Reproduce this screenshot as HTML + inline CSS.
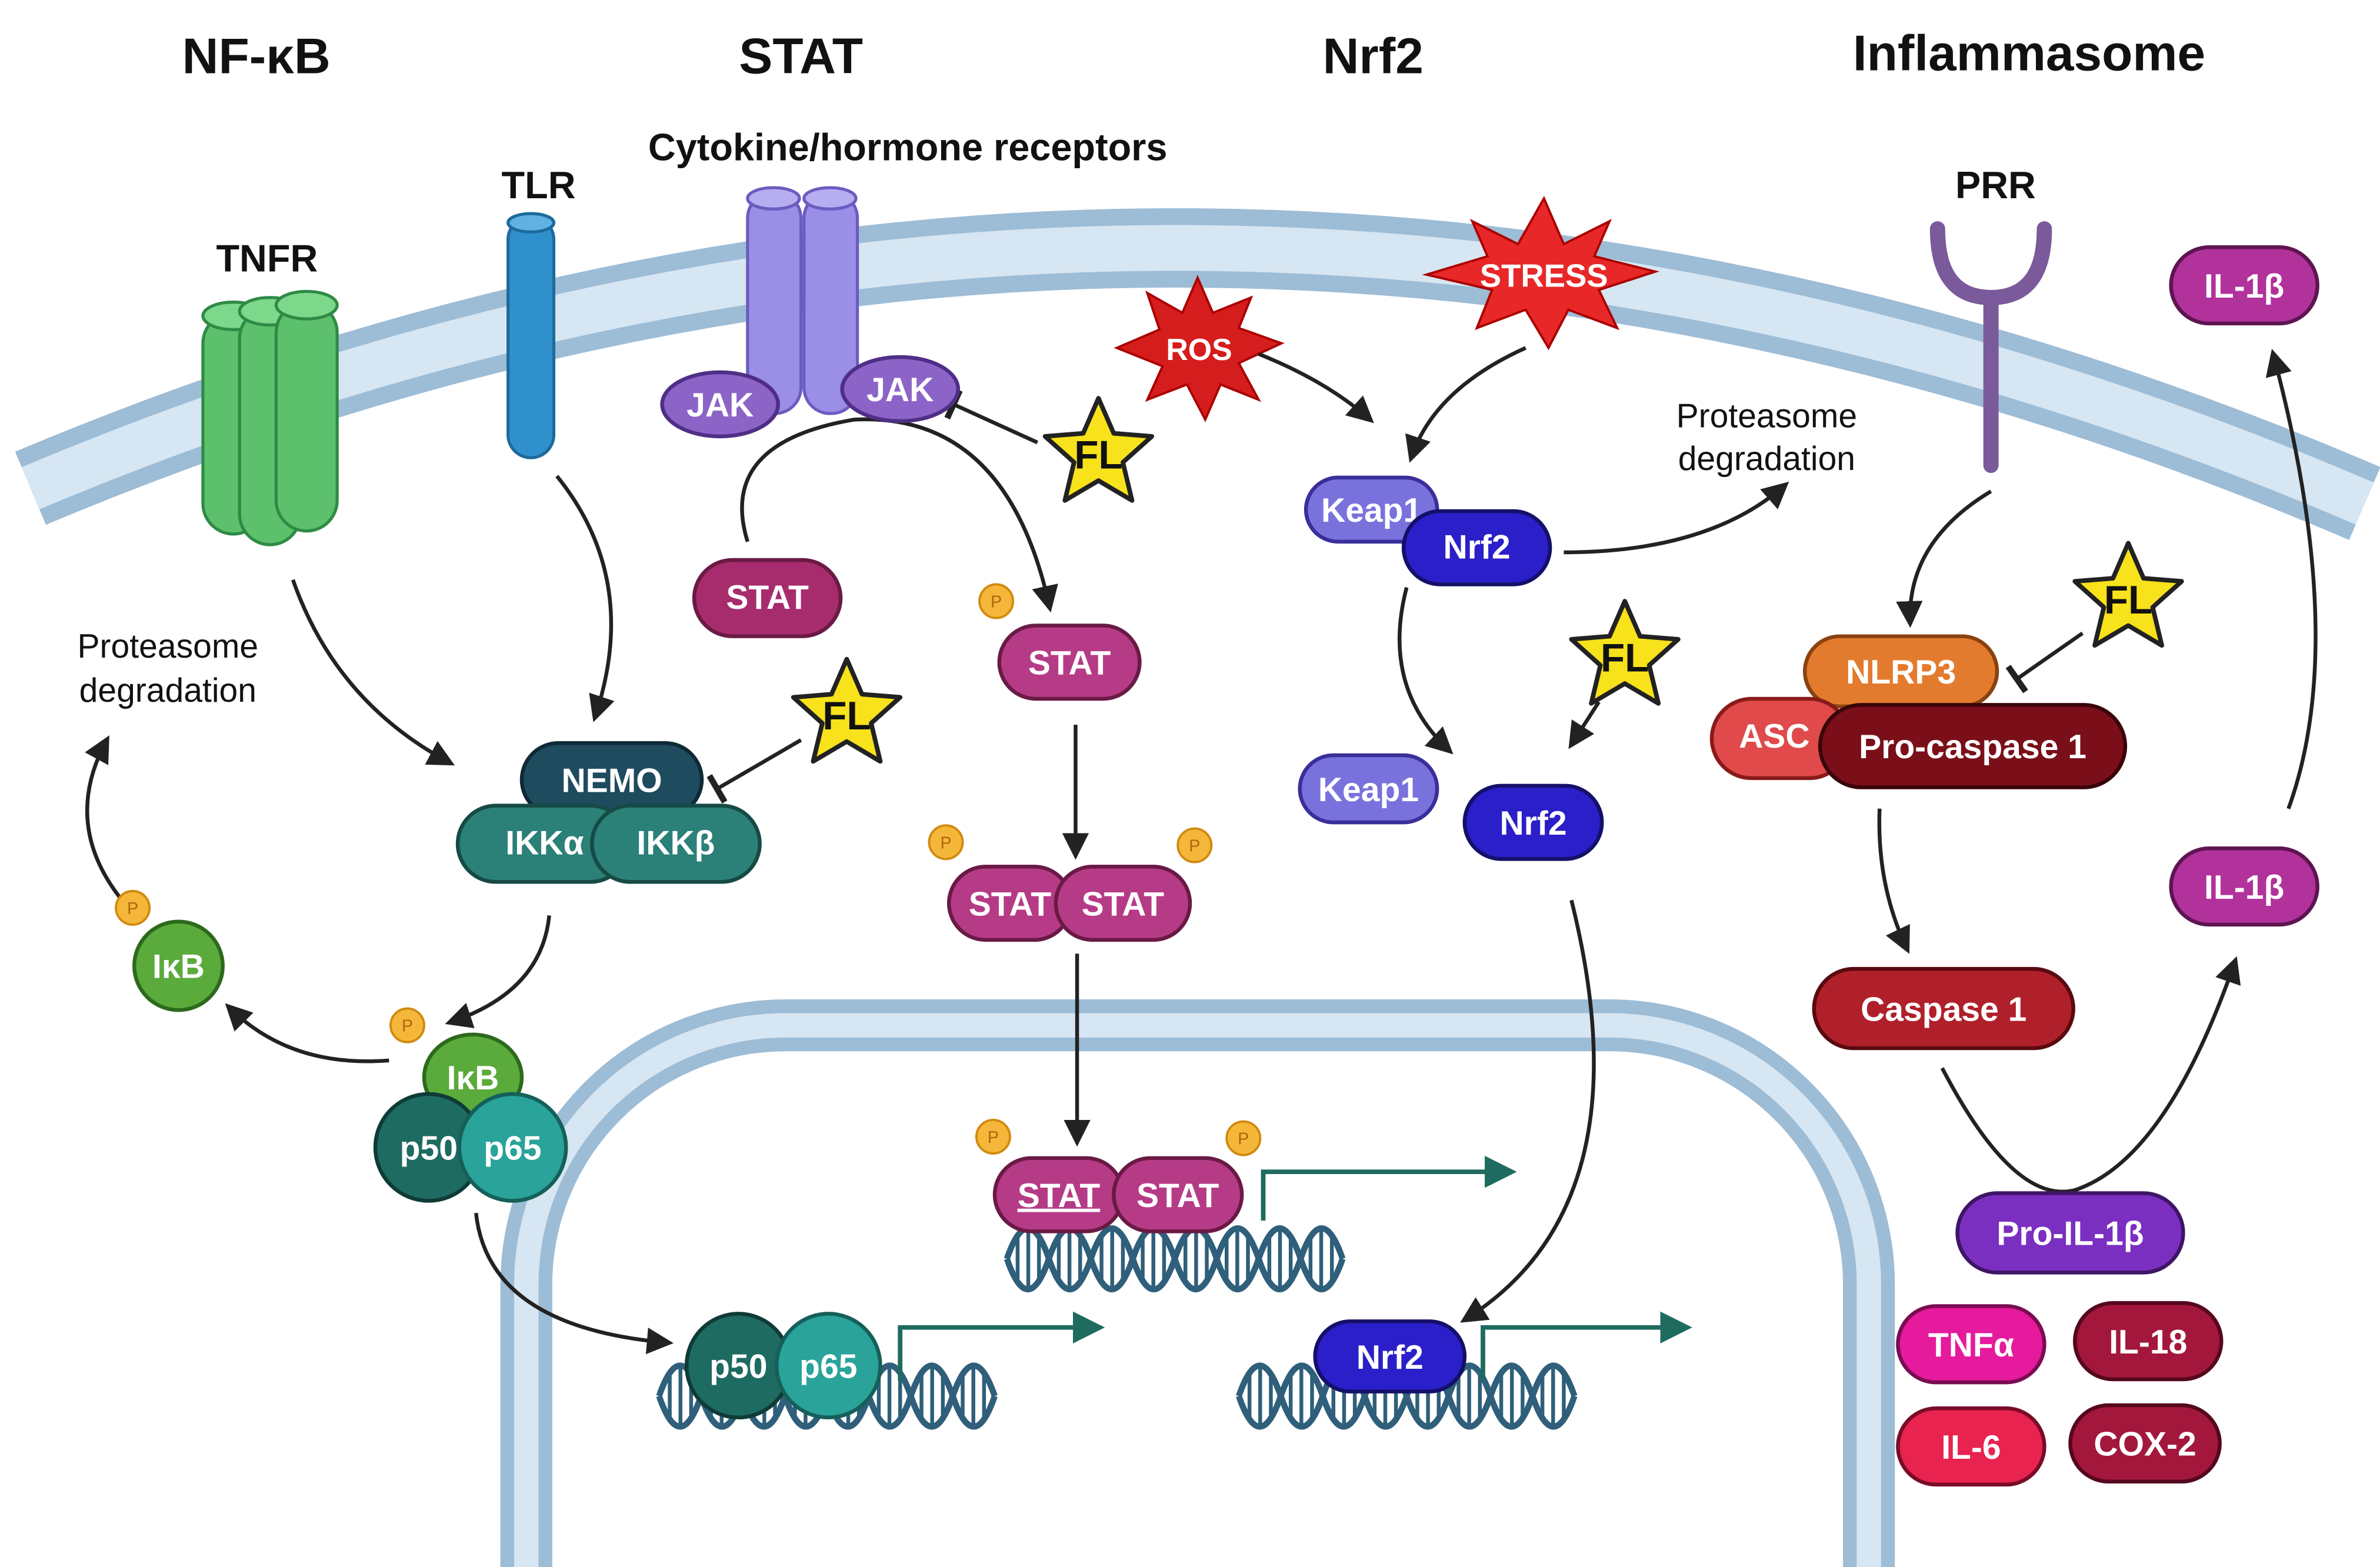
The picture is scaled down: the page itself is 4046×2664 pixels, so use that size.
<!DOCTYPE html>
<html><head><meta charset="utf-8"><style>
html,body{margin:0;padding:0;background:#fff;width:4046px;height:2664px;overflow:hidden}
svg{display:block}
text{font-family:"Liberation Sans",sans-serif}
</style></head><body>
<svg width="4046" height="2664" viewBox="0 0 1560 1027" preserveAspectRatio="none" xmlns="http://www.w3.org/2000/svg">
<defs>
<marker id="ah" viewBox="0 0 10 10" refX="8" refY="5" markerWidth="7" markerHeight="7" orient="auto"><path d="M0,0 L10,5 L0,10 z" fill="#222"/></marker>
<marker id="ag" viewBox="0 0 10 10" refX="8" refY="5" markerWidth="7" markerHeight="7" orient="auto"><path d="M0,0 L10,5 L0,10 z" fill="#1f6b5f"/></marker>
<marker id="tb" viewBox="0 0 10 10" refX="5" refY="5" markerWidth="8" markerHeight="8" orient="auto"><path d="M5,0 L5,10" stroke="#222" stroke-width="2"/></marker>
<g id="dna">
<path d="M0,0 q13.75,-40 27.5,0 q13.75,40 27.5,0 q13.75,-40 27.5,0 q13.75,40 27.5,0 q13.75,-40 27.5,0 q13.75,40 27.5,0 q13.75,-40 27.5,0 q13.75,40 27.5,0" fill="none" stroke="#2f5f7a" stroke-width="4"/>
<path d="M0,0 q13.75,40 27.5,0 q13.75,-40 27.5,0 q13.75,40 27.5,0 q13.75,-40 27.5,0 q13.75,40 27.5,0 q13.75,-40 27.5,0 q13.75,40 27.5,0 q13.75,-40 27.5,0" fill="none" stroke="#2f5f7a" stroke-width="4"/>
<path d="M7,-14v28M14,-18v36M21,-14v28M34,-14v28M41,-18v36M48,-14v28M62,-14v28M69,-18v36M76,-14v28M89,-14v28M96,-18v36M103,-14v28M117,-14v28M124,-18v36M131,-14v28M144,-14v28M151,-18v36M158,-14v28M172,-14v28M179,-18v36M186,-14v28M199,-14v28M206,-18v36M213,-14v28" stroke="#2f5f7a" stroke-width="2.5"/>
</g>
<g id="star"><path d="M0,-36 L10,-13 L35,-11 L16,6 L22,31 L0,18 L-22,31 L-16,6 L-35,-11 L-10,-13 Z" fill="#f7e21b" stroke="#222" stroke-width="3" stroke-linejoin="round"/></g>
<g id="p"><circle r="11" fill="#f4b73a" stroke="#d08a10" stroke-width="1.5"/><text y="4" text-anchor="middle" font-size="11" fill="#b0650a">P</text></g>
</defs>
<rect width="1560" height="1027" fill="#fff"/>
<path d="M20,320 Q780,0 1550,330" fill="none" stroke="#9dbcd6" stroke-width="52"/>
<path d="M20,320 Q780,0 1550,330" fill="none" stroke="#d6e6f2" stroke-width="30"/>
<path d="M345,1027 V842 A170,170 0 0 1 515,672 H1055 A170,170 0 0 1 1225,842 V1027" fill="none" stroke="#9dbcd6" stroke-width="34"/>
<path d="M345,1027 V842 A170,170 0 0 1 515,672 H1055 A170,170 0 0 1 1225,842 V1027" fill="none" stroke="#d6e6f2" stroke-width="16"/>

<g font-weight="bold" font-size="33" text-anchor="middle" fill="#111">
<text x="168" y="48">NF-κB</text><text x="525" y="48">STAT</text><text x="900" y="48">Nrf2</text><text x="1330" y="46">Inflammasome</text>
</g>
<g font-weight="bold" font-size="25" text-anchor="middle" fill="#111">
<text x="175" y="178">TNFR</text><text x="353" y="130">TLR</text><text x="595" y="105">Cytokine/hormone receptors</text><text x="1308" y="130">PRR</text>
</g>
<g font-size="22" text-anchor="middle" fill="#111">
<text x="110" y="431">Proteasome</text><text x="110" y="460">degradation</text>
<text x="1158" y="280">Proteasome</text><text x="1158" y="308">degradation</text>
</g>

<g stroke="#2e8a45" stroke-width="2">
<rect x="133" y="205" width="40" height="145" rx="20" fill="#5cc06c"/><ellipse cx="153" cy="207" rx="20" ry="9" fill="#7ed88b"/>
<rect x="157" y="202" width="40" height="155" rx="20" fill="#5cc06c"/><ellipse cx="177" cy="204" rx="20" ry="9" fill="#7ed88b"/>
<rect x="181" y="198" width="40" height="150" rx="20" fill="#5cc06c"/><ellipse cx="201" cy="200" rx="20" ry="9" fill="#7ed88b"/>
</g>
<rect x="333" y="142" width="30" height="158" rx="15" fill="#3090cc" stroke="#1d6a9c" stroke-width="2"/>
<ellipse cx="348" cy="146" rx="15" ry="6" fill="#5fb2e2" stroke="#1d6a9c" stroke-width="2"/>
<g stroke="#6a5cc0" stroke-width="2">
<rect x="490" y="126" width="35" height="145" rx="17" fill="#9a8ee6"/><ellipse cx="507" cy="130" rx="17" ry="7" fill="#b7aef2"/>
<rect x="527" y="126" width="35" height="145" rx="17" fill="#9a8ee6"/><ellipse cx="544" cy="130" rx="17" ry="7" fill="#b7aef2"/>
</g>
<path d="M1305,305 V195 M1270,150 Q1270,195 1305,195 Q1340,195 1340,150" fill="none" stroke="#7a5a9a" stroke-width="10" stroke-linecap="round"/>

<path d="M785,182 L795,205 L820,195 L812,215 L840,225 L812,238 L825,262 L800,252 L790,275 L778,252 L752,262 L762,240 L732,228 L760,216 L752,192 L775,205 Z" fill="#d61d1d" stroke="#a00" stroke-width="1.5"/>
<text x="786" y="236" text-anchor="middle" font-size="20" font-weight="bold" fill="#fff">ROS</text>
<path d="M1012,130 L1025,160 L1055,145 L1045,168 L1085,178 L1048,190 L1060,215 L1028,203 L1015,228 L1000,203 L968,215 L978,190 L935,180 L975,168 L965,145 L995,160 Z" fill="#e82828" stroke="#a00" stroke-width="1.5"/>
<text x="1012" y="188" text-anchor="middle" font-size="21" font-weight="bold" fill="#fff">STRESS</text>

<g fill="none" stroke="#222" stroke-width="2.5" marker-end="url(#ah)">
<path d="M192,380 Q220,460 295,500"/>
<path d="M365,312 Q420,380 390,470"/>
<path d="M360,600 Q355,650 295,670"/>
<path d="M255,695 Q190,700 150,660"/>
<path d="M80,590 Q40,540 70,485"/>
<path d="M312,795 Q320,870 438,880"/>
<path d="M490,355 Q470,290 560,275 Q660,270 688,398"/>
<path d="M705,475 V560"/>
<path d="M706,625 V748"/>
<path d="M825,232 Q870,250 898,275"/>
<path d="M1000,228 Q940,255 925,300"/>
<path d="M1025,362 Q1120,362 1170,318"/>
<path d="M922,385 Q905,450 950,492"/>
<path d="M1030,590 Q1080,790 960,865"/>
<path d="M1305,322 Q1250,355 1252,408"/>
<path d="M1232,530 Q1230,580 1250,622"/>
<path d="M1273,700 Q1320,790 1360,780 Q1420,760 1465,630"/>
<path d="M1500,530 Q1540,420 1490,232"/>
</g>
<g fill="none" stroke="#222" stroke-width="2.5" marker-end="url(#tb)">
<path d="M680,290 L625,265"/>
<path d="M525,485 L470,517"/>
<path d="M1365,415 L1322,445"/>
</g>
<g fill="none" stroke="#222" stroke-width="2.5" marker-end="url(#ah)"><path d="M1048,460 L1030,488"/></g>

<use href="#dna" x="432" y="915"/>
<use href="#dna" x="660" y="825"/>
<use href="#dna" x="812" y="915"/>
<g fill="none" stroke="#1f6b5f" stroke-width="3" marker-end="url(#ag)">
<path d="M590,905 V870 H720"/>
<path d="M828,800 V768 H990"/>
<path d="M972,905 V870 H1105"/>
</g>

<g font-weight="bold" font-size="22" text-anchor="middle" fill="#fff" stroke-width="2.5">
<ellipse cx="472" cy="265" rx="38" ry="21" fill="#8c64c8" stroke="#4f2f86"/><text x="472" y="273">JAK</text>
<ellipse cx="590" cy="255" rx="38" ry="21" fill="#8c64c8" stroke="#4f2f86"/><text x="590" y="263">JAK</text>
<rect x="455" y="367" width="96" height="50" rx="25" fill="#a72c6d" stroke="#6a1a45"/><text x="503" y="399">STAT</text>
<rect x="655" y="410" width="92" height="48" rx="24" fill="#b63b86" stroke="#6a1a45"/><text x="701" y="442">STAT</text>
<rect x="622" y="568" width="80" height="48" rx="24" fill="#b63b86" stroke="#6a1a45"/><text x="662" y="600">STAT</text>
<rect x="692" y="568" width="88" height="48" rx="24" fill="#b63b86" stroke="#6a1a45"/><text x="736" y="600">STAT</text>
<rect x="652" y="759" width="84" height="48" rx="24" fill="#b63b86" stroke="#6a1a45"/><text x="694" y="791" text-decoration="underline">STAT</text>
<rect x="730" y="759" width="84" height="48" rx="24" fill="#b63b86" stroke="#6a1a45"/><text x="772" y="791">STAT</text>

<rect x="342" y="487" width="118" height="48" rx="24" fill="#1f4b5f" stroke="#0f2a36"/><text x="401" y="519">NEMO</text>
<rect x="300" y="528" width="112" height="50" rx="25" fill="#2b8078" stroke="#164a45"/><text x="357" y="560">IKKα</text>
<rect x="388" y="528" width="110" height="50" rx="25" fill="#2b8078" stroke="#164a45"/><text x="443" y="560">IKKβ</text>
<circle cx="117" cy="633" r="29" fill="#5aab3c" stroke="#2d6a1c"/><text x="117" y="641">IκB</text>
<ellipse cx="310" cy="706" rx="32" ry="28" fill="#5aab3c" stroke="#2d6a1c"/><text x="310" y="714">IκB</text>
<circle cx="281" cy="752" r="35" fill="#1e6b62" stroke="#0f3b36"/><text x="281" y="760">p50</text>
<circle cx="336" cy="752" r="35" fill="#2aa39a" stroke="#156059"/><text x="336" y="760">p65</text>
<circle cx="484" cy="895" r="34" fill="#1e6b62" stroke="#0f3b36"/><text x="484" y="903">p50</text>
<circle cx="543" cy="895" r="34" fill="#2aa39a" stroke="#156059"/><text x="543" y="903">p65</text>

<rect x="856" y="313" width="86" height="42" rx="21" fill="#7a72dc" stroke="#3a2f9a"/><text x="899" y="342">Keap1</text>
<rect x="920" y="335" width="96" height="48" rx="24" fill="#2a1fc8" stroke="#14106a"/><text x="968" y="366">Nrf2</text>
<rect x="852" y="495" width="90" height="44" rx="22" fill="#7a72dc" stroke="#3a2f9a"/><text x="897" y="525">Keap1</text>
<rect x="960" y="515" width="90" height="48" rx="24" fill="#2a1fc8" stroke="#14106a"/><text x="1005" y="547">Nrf2</text>
<rect x="862" y="866" width="98" height="46" rx="23" fill="#2a1fc8" stroke="#14106a"/><text x="911" y="897">Nrf2</text>

<rect x="1183" y="417" width="126" height="46" rx="23" fill="#e37b2e" stroke="#8a4210"/><text x="1246" y="448">NLRP3</text>
<rect x="1122" y="458" width="90" height="52" rx="26" fill="#e04a4a" stroke="#8a1a1a"/><text x="1163" y="490">ASC</text>
<rect x="1193" y="462" width="200" height="54" rx="27" fill="#7a0f1a" stroke="#3a050a"/><text x="1293" y="497">Pro-caspase 1</text>
<rect x="1189" y="635" width="170" height="52" rx="26" fill="#b0202a" stroke="#5a0a10"/><text x="1274" y="669">Caspase 1</text>
<rect x="1423" y="162" width="96" height="50" rx="25" fill="#b1329b" stroke="#5e1552"/><text x="1471" y="195">IL-1β</text>
<rect x="1423" y="556" width="96" height="50" rx="25" fill="#b1329b" stroke="#5e1552"/><text x="1471" y="589">IL-1β</text>
<rect x="1283" y="782" width="148" height="52" rx="26" fill="#7b2fc0" stroke="#3e1566"/><text x="1357" y="816">Pro-IL-1β</text>
<rect x="1244" y="856" width="96" height="50" rx="25" fill="#e51a9c" stroke="#7a0c52"/><text x="1292" y="889">TNFα</text>
<rect x="1360" y="854" width="96" height="50" rx="25" fill="#a3173c" stroke="#55081e"/><text x="1408" y="887">IL-18</text>
<rect x="1244" y="923" width="96" height="50" rx="25" fill="#e8234f" stroke="#7a0c28"/><text x="1292" y="956">IL-6</text>
<rect x="1357" y="921" width="98" height="50" rx="25" fill="#a3173c" stroke="#55081e"/><text x="1406" y="954">COX-2</text>
</g>

<use href="#p" x="653" y="394"/>
<use href="#p" x="620" y="552"/>
<use href="#p" x="783" y="554"/>
<use href="#p" x="651" y="745"/>
<use href="#p" x="815" y="746"/>
<use href="#p" x="87" y="595"/>
<use href="#p" x="267" y="672"/>

<g font-weight="bold" font-size="26" text-anchor="middle" fill="#111">
<use href="#star" x="720" y="297"/><text x="720" y="307">FL</text>
<use href="#star" x="555" y="468"/><text x="555" y="478">FL</text>
<use href="#star" x="1065" y="430"/><text x="1065" y="440">FL</text>
<use href="#star" x="1395" y="392"/><text x="1395" y="402">FL</text>
</g>
</svg>
</body></html>
